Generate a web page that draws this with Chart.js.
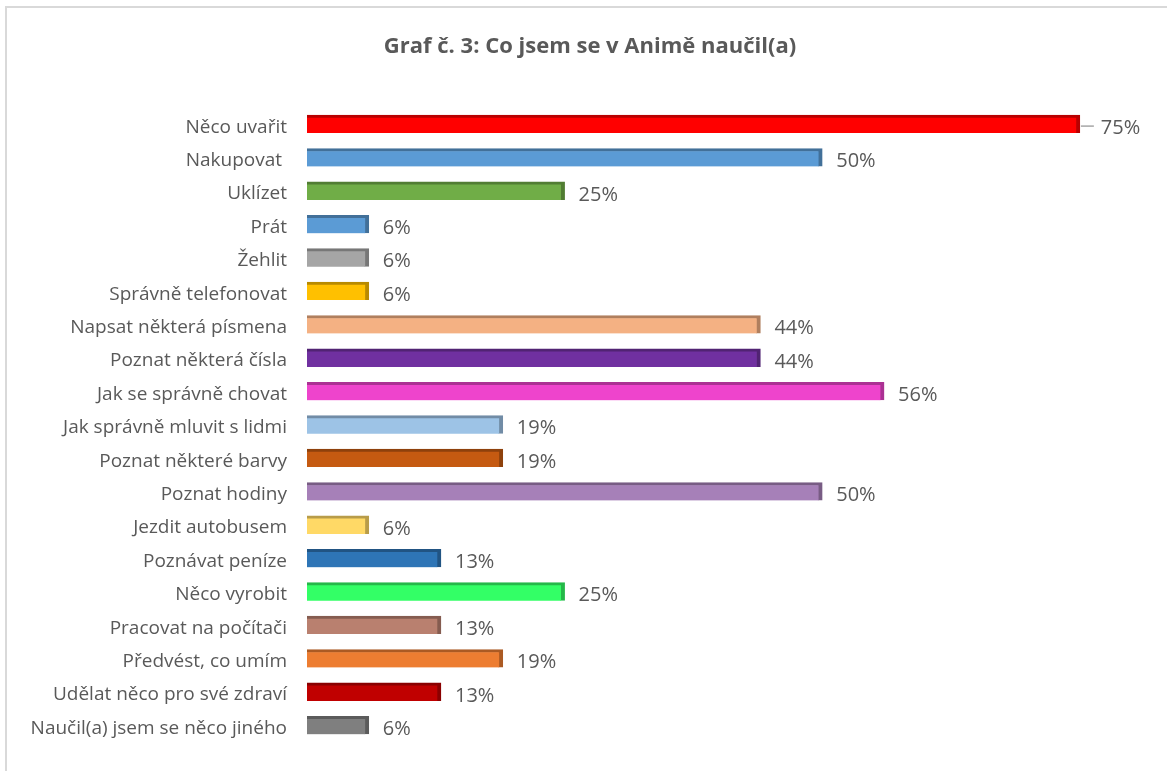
<!DOCTYPE html>
<html>
<head>
<meta charset="utf-8">
<script src="https://cdn.jsdelivr.net/npm/chart.js@4/dist/chart.umd.min.js"></script>
<style>
  html, body { margin: 0; padding: 0; background: #fff; }
  #wrap { position: relative; width: 1167px; height: 771px; }
  #frame { position: absolute; left: 5px; top: 6px; right: 0; bottom: 0;
           border-top: 2px solid #d9d9d9; border-left: 2px solid #d9d9d9; }
  canvas { position: absolute; left: 0; top: 0; }
</style>
</head>
<body>
<div id="wrap">
  <div id="frame"></div>
  <canvas id="myChart" width="1167" height="771"></canvas>
</div>
<script>
"use strict";

const categories = [
    'Něco uvařit', 'Nakupovat ', 'Uklízet', 'Prát', 'Žehlit',
    'Správně telefonovat', 'Napsat některá písmena', 'Poznat některá čísla',
    'Jak se správně chovat', 'Jak správně mluvit s lidmi', 'Poznat některé barvy',
    'Poznat hodiny', 'Jezdit autobusem', 'Poznávat peníze', 'Něco vyrobit',
    'Pracovat na počítači', 'Předvést, co umím', 'Udělat něco pro své zdraví',
    'Naučil(a) jsem se něco jiného'
];
const values = [75, 50, 25, 6, 6, 6, 44, 44, 56, 19, 19, 50, 6, 13, 25, 13, 19, 13, 6];
const barColors = [
    '#ff0000', '#5b9bd5', '#70ad47', '#5b9bd5', '#a5a5a5',
    '#ffc000', '#f4b183', '#7030a0', '#ee44cc', '#9dc3e6', '#c55a11',
    '#a680b8', '#ffd966', '#2e75b6', '#33ff66',
    '#b9806f', '#ed7d31', '#c00000', '#7f7f7f'
];
const LEADER_INDEX = 0; // the 75% label sits a bit further out with a leader line

function darker(hex, f) {
    const n = parseInt(hex.slice(1), 16);
    const r = Math.round(((n >> 16) & 255) * f);
    const g = Math.round(((n >> 8) & 255) * f);
    const b = Math.round((n & 255) * f);
    return 'rgb(' + r + ',' + g + ',' + b + ')';
}

// value labels drawn right of each bar
const valueLabels = {
    id: 'valueLabels',
    afterDatasetsDraw(chart) {
        const ctx = chart.ctx;
        const meta = chart.getDatasetMeta(0);
        ctx.save();
        ctx.font = '20px "Open Sans"';
        ctx.fillStyle = '#595959';
        ctx.textBaseline = 'middle';
        meta.data.forEach((bar, i) => {
            let x = bar.x + 14;
            if (i === LEADER_INDEX) {
                ctx.strokeStyle = '#a6a6a6';
                ctx.lineWidth = 1.5;
                ctx.beginPath();
                ctx.moveTo(bar.x + 1, bar.y + 2);
                ctx.lineTo(bar.x + 14, bar.y + 2);
                ctx.stroke();
                x = bar.x + 21;
            }
            ctx.fillText(values[i] + '%', x, bar.y + 4);
        });
        ctx.restore();
    }
};

const ctx = document.getElementById('myChart');
const myChart = new Chart(ctx, {
    type: 'bar',
    data: {
        labels: categories,
        datasets: [{
            data: values,
            backgroundColor: barColors,
            borderColor: barColors.map(c => darker(c, 0.72)),
            borderWidth: { top: 3, right: 4, bottom: 0, left: 0 },
            borderSkipped: false,
            barThickness: 18
        }]
    },
    options: {
        indexAxis: 'y',
        responsive: false,
        animation: false,
        layout: { padding: { left: 28, right: 15, top: 0, bottom: 29 } },
        plugins: {
            legend: { display: false },
            tooltip: { enabled: false },
            title: {
                display: true,
                text: 'Graf č. 3: Co jsem se v Animě naučil(a)',
                color: '#595959',
                font: { family: '"Open Sans"', size: 22, weight: 'bold' },
                padding: { top: 34, bottom: 47 }
            }
        },
        scales: {
            x: {
                display: false,
                min: 0,
                max: 82
            },
            y: {
                grid: { display: false },
                border: { display: false },
                ticks: {
                    color: '#595959',
                    font: { family: '"Open Sans"', size: 19 },
                    padding: 12,
                    labelOffset: 3
                },
                afterFit(scale) { scale.width = 279; }
            }
        }
    },
    plugins: [valueLabels]
});
</script>
</body>
</html>
